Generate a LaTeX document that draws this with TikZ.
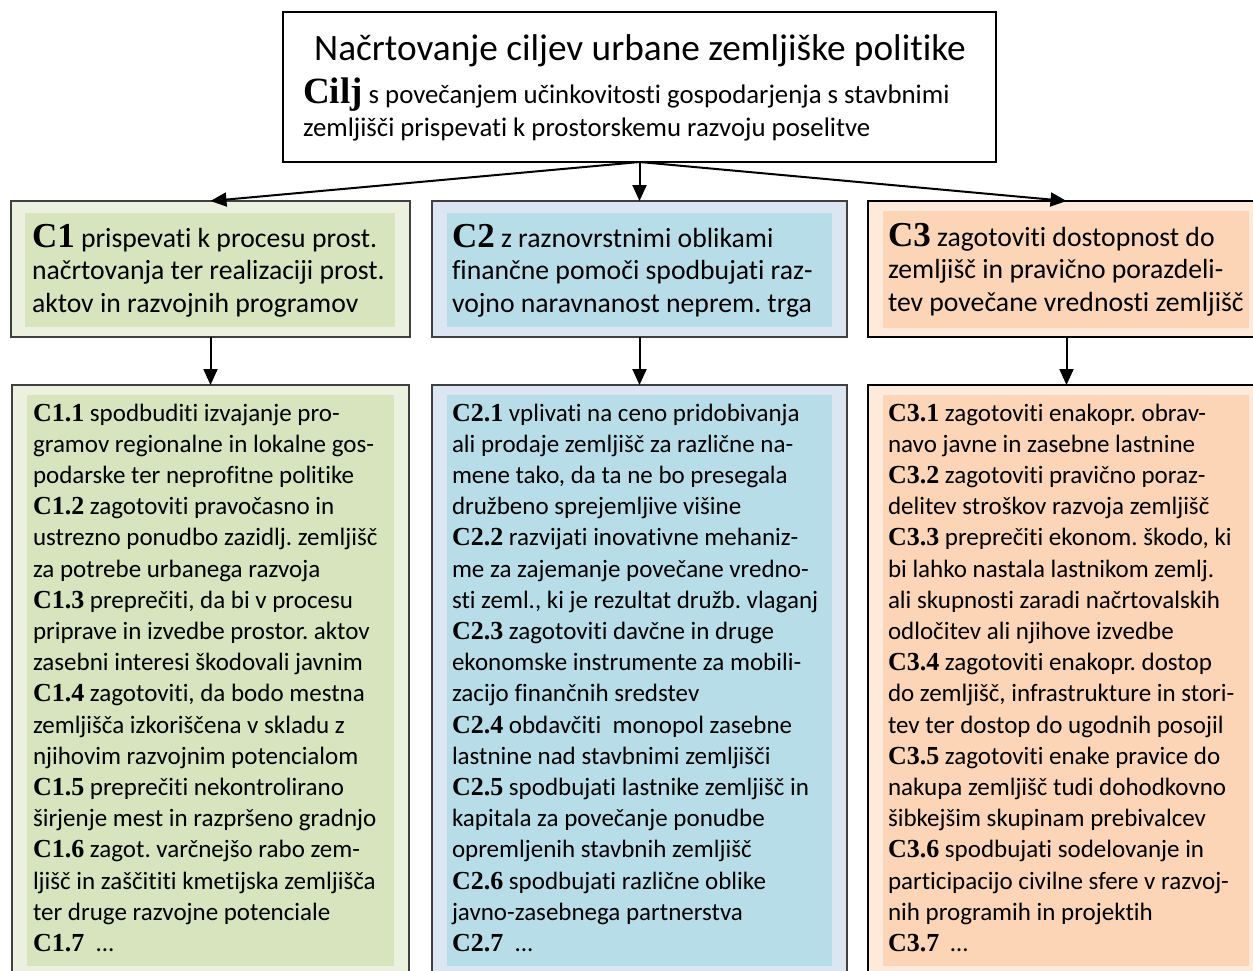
\documentclass[tikz,border=0pt]{standalone}
\usepackage{fontspec}
\setmainfont{Carlito}[Ligatures=NoCommon]
\newfontfamily\tnr{Liberation Serif}
\usetikzlibrary{arrows.meta}
\frenchspacing
\definecolor{gOut}{HTML}{EBF1DE}
\definecolor{gIn}{HTML}{D7E4BD}
\definecolor{bOut}{HTML}{DCE6F2}
\definecolor{bIn}{HTML}{B7DEE8}
\definecolor{oOut}{HTML}{FDEADA}
\definecolor{oIn}{HTML}{FBD5B5}
\definecolor{edgeGray}{HTML}{404040}
\newcommand\Lb[1]{{\tnr\bfseries\fontsize{26}{31.2}\selectfont #1}}
\newcommand\Mb[1]{{\tnr\bfseries\fontsize{35}{32.5}\selectfont #1}}
\tikzset{
  box/.style={anchor=north west, inner sep=0pt, outer sep=0pt, draw=edgeGray, line width=1.4pt},
  innerbox/.style={anchor=north west, inner sep=0pt, outer sep=0pt, draw=none},
  txt/.style={anchor=base west, inner sep=0pt, outer sep=0pt},
  conn/.style={line width=2pt, -{Triangle[length=16pt,width=14pt]}},
}
\begin{document}
\begin{tikzpicture}[x=1pt,y=-1pt]
\useasboundingbox (0,0) rectangle (1253,970);
\clip (0,0) rectangle (1253,970);
% top box
\node[box, draw=black, line width=1.2pt, fill=white, minimum width=713pt, minimum height=150pt] (top) at (283,12) {};
\node[anchor=base, inner sep=0pt] (title) at (640,60) {\fontsize{37.3}{44}\selectfont Načrtovanje ciljev urbane zemljiške politike};
\node[txt] (goal) at (303,103) {\parbox[t]{700pt}{\fontsize{26.8}{33}\selectfont {\tnr\bfseries\fontsize{37}{33}\selectfont Cilj} s povečanjem učinkovitosti gospodarjenja s stavbnimi\\
zemljišči prispevati k prostorskemu razvoju poselitve}};
% middle boxes
\node[box, fill=gOut, minimum width=399pt, minimum height=136pt] (m1) at (11,201) {};
\node[innerbox, fill=gIn, minimum width=370pt, minimum height=114pt] (m1i) at (25,213) {};
\node[box, fill=bOut, minimum width=415pt, minimum height=136pt] (m2) at (432,201) {};
\node[innerbox, fill=bIn, minimum width=385pt, minimum height=114pt] (m2i) at (447,213) {};
\node[box, draw=black, fill=oOut, minimum width=397pt, minimum height=136pt] (m3) at (868,201) {};
\node[innerbox, fill=oIn, minimum width=366pt, minimum height=117pt] (m3i) at (883,211) {};
\node[txt] (m1t) at (32,247) {\parbox[t]{420pt}{\fontsize{27.7}{32.5}\selectfont
\Mb{C1} prispevati k procesu prost.\\
načrtovanja ter realizaciji prost.\\
aktov in razvojnih programov}};
\node[txt] (m2t) at (452,247) {\parbox[t]{420pt}{\fontsize{27.7}{32.5}\selectfont
\Mb{C2} z raznovrstnimi oblikami\\
finančne pomoči spodbujati raz-\\
vojno naravnanost neprem. trga}};
\node[txt] (m3t) at (888,246) {\parbox[t]{420pt}{\fontsize{27.7}{32.5}\selectfont
\Mb{C3} zagotoviti dostopnost do\\
zemljišč in pravično porazdeli-\\
tev povečane vrednosti zemljišč}};
% bottom boxes
\node[box, fill=gOut, minimum width=397pt, minimum height=600pt] (b1) at (12,385) {};
\node[innerbox, fill=gIn, minimum width=367pt, minimum height=571pt] (b1i) at (27,395) {};
\node[box, fill=bOut, minimum width=415pt, minimum height=600pt] (b2) at (432,385) {};
\node[innerbox, fill=bIn, minimum width=385pt, minimum height=571pt] (b2i) at (447,395) {};
\node[box, draw=black, fill=oOut, minimum width=397pt, minimum height=600pt] (b3) at (868,385) {};
\node[innerbox, fill=oIn, minimum width=366pt, minimum height=571pt] (b3i) at (883,395) {};
\node[txt] (b1t) at (33,421) {\parbox[t]{420pt}{\fontsize{25}{31.2}\selectfont
\Lb{C1.1} spodbuditi izvajanje pro-\\
gramov regionalne in lokalne gos-\\
podarske ter neprofitne politike\\
\Lb{C1.2} zagotoviti pravočasno in\\
ustrezno ponudbo zazidlj. zemljišč\\
za potrebe urbanega razvoja\\
\Lb{C1.3} preprečiti, da bi v procesu\\
priprave in izvedbe prostor. aktov\\
zasebni interesi škodovali javnim\\
\Lb{C1.4} zagotoviti, da bodo mestna\\
zemljišča izkoriščena v skladu z\\
njihovim razvojnim potencialom\\
\Lb{C1.5} preprečiti nekontrolirano\\
širjenje mest in razpršeno gradnjo\\
\Lb{C1.6} zagot. varčnejšo rabo zem-\\
ljišč in zaščititi kmetijska zemljišča\\
ter druge razvojne potenciale\\
\Lb{C1.7}~ ...}};
\node[txt] (b2t) at (452,421) {\parbox[t]{420pt}{\fontsize{25}{31.2}\selectfont
\Lb{C2.1} vplivati na ceno pridobivanja\\
ali prodaje zemljišč za različne na-\\
mene tako, da ta ne bo presegala\\
družbeno sprejemljive višine\\
\Lb{C2.2} razvijati inovativne mehaniz-\\
me za zajemanje povečane vredno-\\
sti zeml., ki je rezultat družb. vlaganj\\
\Lb{C2.3} zagotoviti davčne in druge\\
ekonomske instrumente za mobili-\\
zacijo finančnih sredstev\\
\Lb{C2.4} obdavčiti~ monopol zasebne\\
lastnine nad stavbnimi zemljišči\\
\Lb{C2.5} spodbujati lastnike zemljišč in\\
kapitala za povečanje ponudbe\\
opremljenih stavbnih zemljišč\\
\Lb{C2.6} spodbujati različne oblike\\
javno-zasebnega partnerstva\\
\Lb{C2.7}~ ...}};
\node[txt] (b3t) at (888,421) {\parbox[t]{420pt}{\fontsize{25}{31.2}\selectfont
\Lb{C3.1} zagotoviti enakopr. obrav-\\
navo javne in zasebne lastnine\\
\Lb{C3.2} zagotoviti pravično poraz-\\
delitev stroškov razvoja zemljišč\\
\Lb{C3.3} preprečiti ekonom. škodo, ki\\
bi lahko nastala lastnikom zemlj.\\
ali skupnosti zaradi načrtovalskih\\
odločitev ali njihove izvedbe\\
\Lb{C3.4} zagotoviti enakopr. dostop\\
do zemljišč, infrastrukture in stori-\\
tev ter dostop do ugodnih posojil\\
\Lb{C3.5} zagotoviti enake pravice do\\
nakupa zemljišč tudi dohodkovno\\
šibkejšim skupinam prebivalcev\\
\Lb{C3.6} spodbujati sodelovanje in\\
participacijo civilne sfere v razvoj-\\
nih programih in projektih\\
\Lb{C3.7}~ …}};
% connectors
\draw[conn] (top.south) -- (m1.north);
\draw[conn] (top.south) -- (m2.north);
\draw[conn] (top.south) -- (m3.north);
\draw[conn] (m1.south) -- (b1.north);
\draw[conn] (m2.south) -- (b2.north);
\draw[conn] (m3.south) -- (b3.north);
\end{tikzpicture}
\end{document}
